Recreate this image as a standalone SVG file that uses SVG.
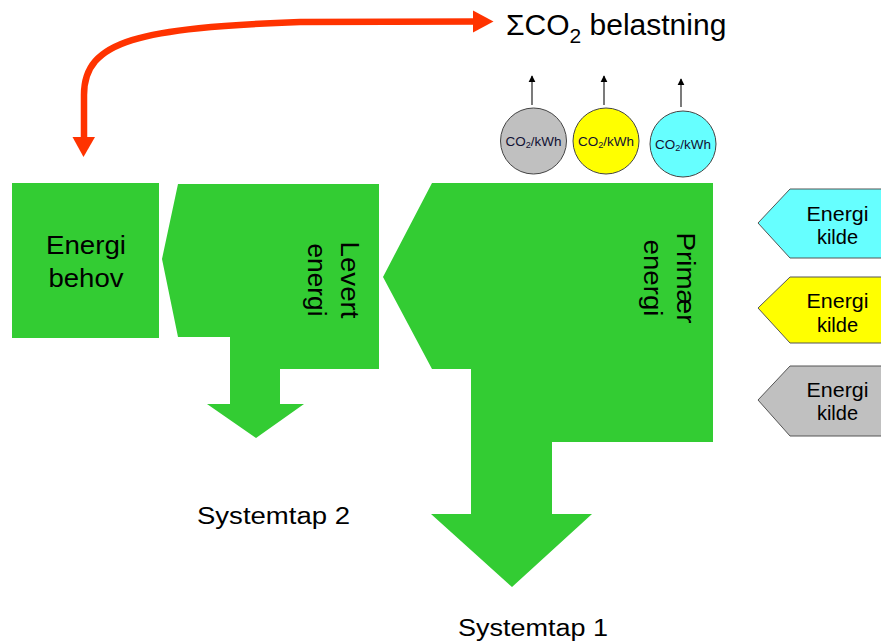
<svg xmlns="http://www.w3.org/2000/svg" width="881" height="641" viewBox="0 0 881 641">
<defs>
<style>
.t{font-family:"Liberation Sans",Arial,sans-serif;fill:#000}
.g{fill:#33CC33}
.src{stroke:#555;stroke-width:1}
.circ{stroke:#444;stroke-width:1}
.co{font-family:"Liberation Sans",Arial,sans-serif;font-size:12.5px;fill:#111133}
.red{fill:none;stroke:#FF3300;stroke-width:6.5}
.up{stroke:#222;stroke-width:1.2}
</style>
<marker id="ah" viewBox="0 0 10 10" refX="9" refY="5" markerWidth="7" markerHeight="8" markerUnits="userSpaceOnUse" orient="auto">
<path d="M0,0 L10,5 L0,10 Z" fill="#000"/>
</marker>
</defs>
<rect width="881" height="641" fill="#fff"/>

<g id="connectors">
<path class="red" d="M84,140 L84,95 C84,40 140,28 300,22 L476,21.5"/>
<polygon points="473,10.5 493.5,21.5 473,32.5" fill="#FF3300"/>
<polygon points="72.5,137 95,137 83.5,157" fill="#FF3300"/>
<line class="up" x1="532" y1="105" x2="532" y2="76" marker-end="url(#ah)"/>
<line class="up" x1="604" y1="105" x2="604" y2="76" marker-end="url(#ah)"/>
<line class="up" x1="681" y1="107" x2="681" y2="79" marker-end="url(#ah)"/>
</g>

<g id="co2-label">
<text class="t" x="506" y="35" font-size="30">ΣCO<tspan font-size="21" dy="8">2</tspan><tspan dy="-8"> belastning</tspan></text>
</g>

<g id="circle-gray">
<circle class="circ" cx="533.5" cy="141" r="33" fill="#C0C0C0"/>
<text class="co" x="505.5" y="146" textLength="56" lengthAdjust="spacingAndGlyphs">CO<tspan font-size="8.5" dy="2">2</tspan><tspan dy="-2">/kWh</tspan></text>
</g>
<g id="circle-yellow">
<circle class="circ" cx="606" cy="141" r="33" fill="#FFFF00"/>
<text class="co" x="578" y="146" textLength="56" lengthAdjust="spacingAndGlyphs">CO<tspan font-size="8.5" dy="2">2</tspan><tspan dy="-2">/kWh</tspan></text>
</g>
<g id="circle-cyan">
<circle class="circ" cx="683" cy="144" r="33" fill="#66FFFF"/>
<text class="co" x="655" y="149" textLength="56" lengthAdjust="spacingAndGlyphs">CO<tspan font-size="8.5" dy="2">2</tspan><tspan dy="-2">/kWh</tspan></text>
</g>

<g id="energi-behov">
<rect class="g" x="12" y="183" width="147" height="155"/>
<text class="t" font-size="25" text-anchor="middle"><tspan x="86" y="254" textLength="80" lengthAdjust="spacingAndGlyphs">Energi</tspan><tspan x="86" y="287" textLength="75" lengthAdjust="spacingAndGlyphs">behov</tspan></text>
</g>

<g id="levert-energi">
<polygon class="g" points="178,184 379,184 379,369 280,369 280,404 304,404 256,438 207,404 230,404 230,337 178,337 162,259"/>
<text class="t" font-size="26" text-anchor="middle" transform="translate(341,280) rotate(90)"><tspan x="0" y="0" textLength="77" lengthAdjust="spacingAndGlyphs">Levert</tspan><tspan x="0" y="33" textLength="73" lengthAdjust="spacingAndGlyphs">energi</tspan></text>
</g>

<g id="primaer-energi">
<polygon class="g" points="432,183 713,183 713,442 552,442 552,514 592,514 512,587 431,514 471,514 471,369 432,369 383,277"/>
<text class="t" font-size="26" text-anchor="middle" transform="translate(677,278) rotate(90)"><tspan x="0" y="0" textLength="91" lengthAdjust="spacingAndGlyphs">Primær</tspan><tspan x="0" y="33" textLength="77" lengthAdjust="spacingAndGlyphs">energi</tspan></text>
</g>

<g id="systemtap-2">
<text class="t" x="197" y="524" font-size="23.5" textLength="153" lengthAdjust="spacingAndGlyphs">Systemtap 2</text>
</g>
<g id="systemtap-1">
<text class="t" x="458" y="636" font-size="23.5" textLength="150" lengthAdjust="spacingAndGlyphs">Systemtap 1</text>
</g>

<g id="kilde-cyan">
<polygon class="src" points="790,189 884,189 884,258 790,258 758,223" fill="#66FFFF"/>
<text class="t" font-size="20" text-anchor="middle"><tspan x="837.5" y="221" textLength="62" lengthAdjust="spacingAndGlyphs">Energi</tspan><tspan x="837.5" y="244">kilde</tspan></text>
</g>
<g id="kilde-yellow">
<polygon class="src" points="790,277 884,277 884,343 790,343 758,308" fill="#FFFF00"/>
<text class="t" font-size="20" text-anchor="middle"><tspan x="837.5" y="308" textLength="62" lengthAdjust="spacingAndGlyphs">Energi</tspan><tspan x="837.5" y="332">kilde</tspan></text>
</g>
<g id="kilde-gray">
<polygon class="src" points="790,366 884,366 884,436 790,436 758,400" fill="#C0C0C0"/>
<text class="t" font-size="20" text-anchor="middle"><tspan x="837.5" y="397" textLength="62" lengthAdjust="spacingAndGlyphs">Energi</tspan><tspan x="837.5" y="420">kilde</tspan></text>
</g>
</svg>
